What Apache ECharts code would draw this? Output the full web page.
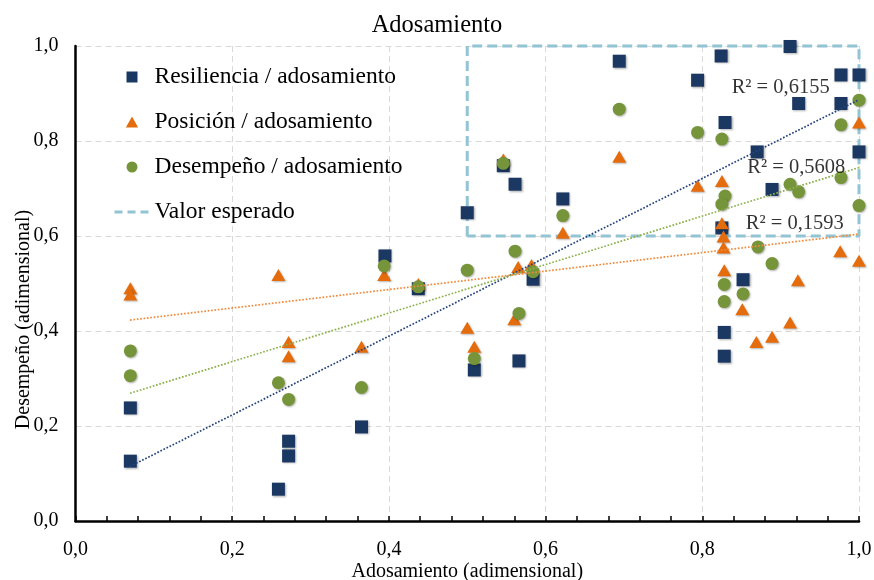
<!DOCTYPE html>
<html>
<head>
<meta charset="utf-8">
<script src="https://cdn.jsdelivr.net/npm/echarts@6/dist/echarts.min.js"></script>
<style>html,body{margin:0;padding:0;background:#fff}#c{width:874px;height:580px}</style>
</head>
<body>
<div id="c"></div>
<script>
// ---- data ----
var xTicks = [0, 0.2, 0.4, 0.6, 0.8, 1.0];
var xRes = [0.07, 0.07, 0.259, 0.272, 0.272, 0.365, 0.395, 0.4375, 0.5, 0.509, 0.546, 0.561, 0.566, 0.584, 0.622, 0.694, 0.794, 0.824, 0.829, 0.825, 0.828, 0.828, 0.852, 0.87, 0.889, 0.912, 0.923, 0.977, 0.977, 1.0, 1.0];
var yRes = [0.126, 0.238, 0.067, 0.168, 0.137, 0.198, 0.558, 0.489, 0.649, 0.318, 0.748, 0.709, 0.337, 0.509, 0.678, 0.968, 0.928, 0.979, 0.839, 0.617, 0.397, 0.347, 0.508, 0.777, 0.698, 0.999, 0.879, 0.939, 0.879, 0.939, 0.777];
var xPos = [0.07, 0.07, 0.259, 0.272, 0.272, 0.365, 0.394, 0.4375, 0.5, 0.509, 0.546, 0.56, 0.565, 0.582, 0.622, 0.694, 0.794, 0.825, 0.825, 0.827, 0.827, 0.828, 0.851, 0.869, 0.889, 0.912, 0.922, 0.976, 1.0, 1.0];
var yPos = [0.49, 0.477, 0.518, 0.377, 0.347, 0.367, 0.518, 0.499, 0.407, 0.367, 0.761, 0.425, 0.535, 0.539, 0.607, 0.767, 0.706, 0.716, 0.627, 0.599, 0.576, 0.528, 0.446, 0.377, 0.388, 0.418, 0.507, 0.568, 0.548, 0.839];
var xDes = [0.07, 0.07, 0.259, 0.272, 0.365, 0.394, 0.4375, 0.5, 0.509, 0.546, 0.561, 0.566, 0.584, 0.622, 0.694, 0.794, 0.825, 0.829, 0.825, 0.871, 0.889, 0.828, 0.828, 0.852, 0.912, 0.923, 0.977, 0.977, 1.0, 1.0];
var yDes = [0.358, 0.306, 0.291, 0.256, 0.281, 0.537, 0.493, 0.528, 0.342, 0.753, 0.568, 0.437, 0.525, 0.643, 0.867, 0.818, 0.804, 0.684, 0.667, 0.577, 0.542, 0.498, 0.462, 0.478, 0.709, 0.693, 0.723, 0.834, 0.886, 0.664];
// trend lines (endpoints)
var trendX = [0.0696, 1.0];
var trendRes = [0.115, 0.887];
var trendDes = [0.269, 0.744];
var trendPos = [0.423, 0.604];
// expected-value box corners
var boxX = [0.5, 0.5, 1.0, 1.0, 0.5];
var boxY = [0.6, 1.0, 1.0, 0.6, 0.6];
// R² labels: text and anchor positions in data units
var r2Text = ['R² = 0,6155', 'R² = 0,5608', 'R² = 0,1593'];
var r2X = [0.9, 0.92, 0.918];
var r2Y = [0.912, 0.743, 0.627];
var names = ['Resiliencia / adosamiento', 'Posición / adosamiento', 'Desempeño / adosamiento', 'Valor esperado'];

function zip(a, b) { return a.map(function (v, i) { return [v, b[i]]; }); }

var SERIF = '"Liberation Serif", "DejaVu Serif", serif';
var cNavy = '#1b3862', cOrange = '#e56c0c', cGreen = '#76953a', cBox = '#92c4d4';
var shadow = { opacity: 1, shadowColor: 'rgba(0,0,0,0.3)', shadowBlur: 2, shadowOffsetX: 1, shadowOffsetY: 1 };

var chart = echarts.init(document.getElementById('c'), null, { renderer: 'canvas' });
chart.setOption({
  backgroundColor: '#fff',
  animation: false,
  title: {
    text: 'Adosamiento', left: 'center', top: 8,
    textStyle: { fontFamily: SERIF, fontSize: 24.5, fontWeight: 'normal', color: '#000' }
  },
  legend: {
    orient: 'vertical', left: 108, top: 60,
    itemWidth: 35, itemHeight: 11, itemGap: 21, symbolKeepAspect: true,
    textStyle: { fontFamily: SERIF, fontSize: 23.5, color: '#000', lineHeight: 24 },
    data: [
      { name: names[0], icon: 'path://M0,0H10V10H0Z' },
      { name: names[1], icon: 'path://M5,0L10,9L0,9Z' },
      { name: names[2], icon: 'circle' },
      { name: names[3], itemStyle: { opacity: 0 }, lineStyle: { color: cBox, width: 3, type: [8, 5] } }
    ]
  },
  grid: { left: 75.5, right: 15, top: 46, bottom: 59, containLabel: false, outerBoundsMode: 'none' },
  xAxis: {
    type: 'value', min: 0, max: 1, interval: 0.2,
    name: 'Adosamiento (adimensional)', nameLocation: 'middle', nameGap: 40.5, nameMoveOverlap: false,
    nameTextStyle: { fontFamily: SERIF, fontSize: 20, color: '#000' },
    axisLine: { show: true, onZero: false, lineStyle: { color: '#000', width: 2.5 } },
    axisTick: { show: true, inside: true, length: 5, lineStyle: { color: '#000', width: 1.5 } },
    minorTick: { show: true, splitNumber: 5, length: 5, lineStyle: { color: '#000', width: 1.5 } },
    axisLabel: { margin: 19, fontFamily: SERIF, fontSize: 20, color: '#000',
      formatter: function (v) { return v.toFixed(1).replace('.', ','); } },
    splitLine: { show: true, lineStyle: { color: '#d9d9d9', type: [6, 4], width: 1 } }
  },
  yAxis: {
    type: 'value', min: 0, max: 1, interval: 0.2,
    name: 'Desempeño (adimensional)', nameLocation: 'middle', nameGap: 41.5, nameRotate: 90, nameMoveOverlap: false,
    nameTextStyle: { fontFamily: SERIF, fontSize: 20, color: '#000', padding: [0, 72, 0, 0] },
    axisLine: { show: true, onZero: false, lineStyle: { color: '#000', width: 2.5 } },
    axisTick: { show: false },
    axisLabel: { margin: 17, fontFamily: SERIF, fontSize: 20, color: '#000',
      formatter: function (v) { return v.toFixed(1).replace('.', ','); } },
    splitLine: { show: true, lineStyle: { color: '#d9d9d9', type: [6, 4], width: 1 } }
  },
  series: [
    {
      name: names[3], type: 'line', data: zip(boxX, boxY), symbol: 'none', clip: false, z: 1,
      lineStyle: { color: cBox, width: 3, type: [10, 5] }, itemStyle: { color: cBox }
    },
    {
      name: names[0], type: 'scatter', data: zip(xRes, yRes), symbol: 'rect', symbolSize: 13, clip: false, z: 3,
      itemStyle: Object.assign({ color: cNavy }, shadow)
    },
    {
      name: names[1], type: 'scatter', data: zip(xPos, yPos), symbol: 'triangle', symbolSize: [14, 12], clip: false, z: 4,
      itemStyle: Object.assign({ color: cOrange }, shadow)
    },
    {
      name: names[2], type: 'scatter', data: zip(xDes, yDes), symbol: 'circle', symbolSize: 13, clip: false, z: 5,
      itemStyle: Object.assign({ color: cGreen }, shadow)
    },
    {
      name: 'trendRes', type: 'line', data: zip(trendX, trendRes), symbol: 'none', z: 6,
      lineStyle: { color: '#24437f', width: 1.7, type: 'dotted' }
    },
    {
      name: 'trendDes', type: 'line', data: zip(trendX, trendDes), symbol: 'none', z: 6,
      lineStyle: { color: '#8cb04b', width: 1.7, type: 'dotted' }
    },
    {
      name: 'trendPos', type: 'line', data: zip(trendX, trendPos), symbol: 'none', z: 6,
      lineStyle: { color: '#f08a3c', width: 1.7, type: 'dotted' }
    },
    {
      name: 'r2', type: 'scatter', symbolSize: 1, z: 7, silent: true,
      itemStyle: { color: 'rgba(0,0,0,0)' },
      data: r2Text.map(function (t, i) { return { value: [r2X[i], r2Y[i]], label: { formatter: t } }; }),
      label: { show: true, position: 'inside', fontFamily: SERIF, fontSize: 20.5, color: '#000' }
    }
  ]
});
</script>
</body>
</html>
